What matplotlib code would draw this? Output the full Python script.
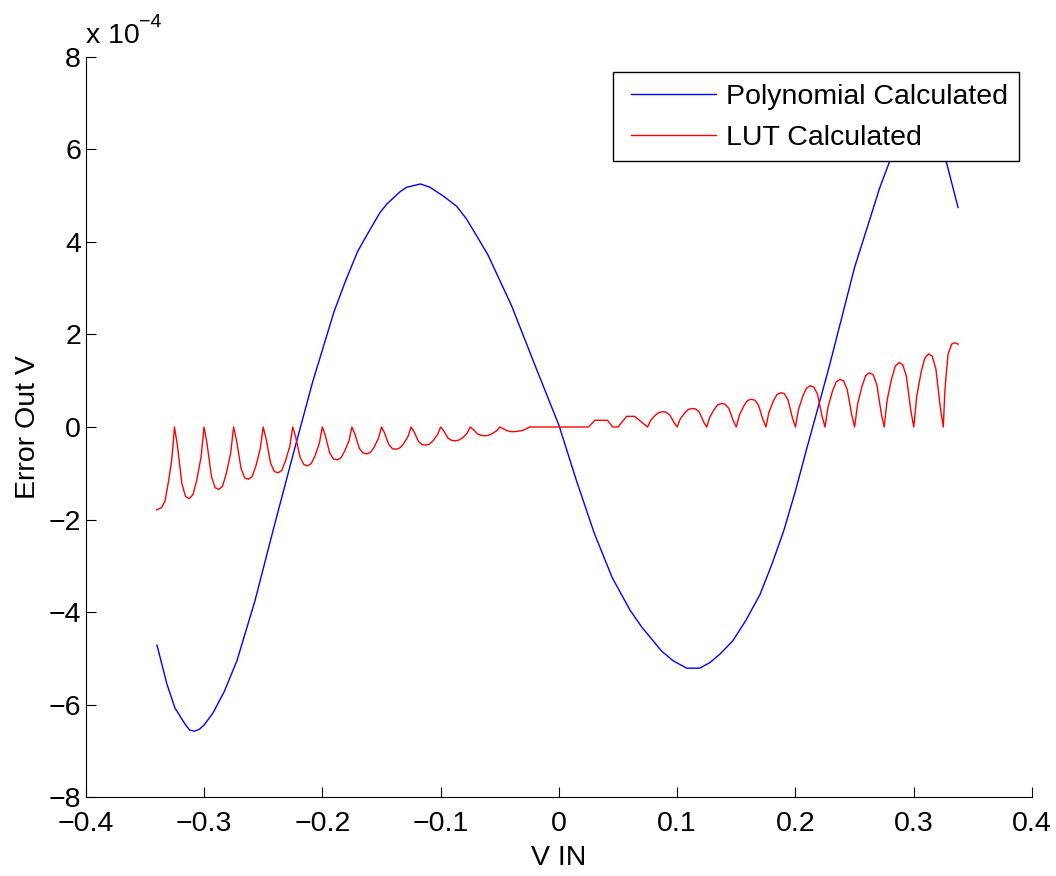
import numpy as np
import matplotlib
matplotlib.use("Agg")
import matplotlib.pyplot as plt
from matplotlib.patches import Rectangle

plt.rcParams['font.family'] = ['Liberation Sans', 'DejaVu Sans']

# error values are in units of 1e-4 V (axis shows "x 10^-4")
poly_x = [-0.3398, -0.3314, -0.3246, -0.316, -0.312, -0.308, -0.304, -0.300,
          -0.2925, -0.283, -0.2722, -0.257, -0.2418, -0.2232, -0.208, -0.20,
          -0.19, -0.18, -0.17, -0.16, -0.1513, -0.1457, -0.1344, -0.1287,
          -0.117, -0.109, -0.0978, -0.0865, -0.078, -0.07, -0.06, -0.04, -0.02,
          0.0, 0.015, 0.03, 0.045, 0.06, 0.07, 0.0797, 0.0868, 0.0966, 0.108,
          0.119, 0.1276, 0.136, 0.147, 0.158, 0.17, 0.18, 0.19, 0.20, 0.2094,
          0.2206, 0.229, 0.2384, 0.25, 0.2629, 0.271, 0.2792, 0.29, 0.30,
          0.308, 0.316, 0.3277, 0.3375]
poly_err = [-4.71, -5.55, -6.07, -6.42, -6.55, -6.57, -6.53, -6.44,
            -6.18, -5.72, -5.05, -3.76, -2.25, -0.45, 0.99, 1.66,
            2.5, 3.18, 3.8, 4.25, 4.63, 4.81, 5.08, 5.18,
            5.25, 5.18, 4.99, 4.77, 4.49, 4.15, 3.72, 2.62, 1.32,
            0.04, -1.17, -2.3, -3.25, -3.95, -4.32, -4.62, -4.84, -5.05, -5.21,
            -5.21, -5.09, -4.91, -4.62, -4.18, -3.62, -2.97, -2.25, -1.38, -0.48,
            0.56, 1.35, 2.29, 3.45, 4.49, 5.15, 5.71, 6.25, 6.52,
            6.57, 6.4, 5.71, 4.74]

lut_x = [
    -0.3400, -0.3359, -0.3330, -0.3300, -0.3274, -0.3260,
    -0.325, -0.3225, -0.31875, -0.315625, -0.3125, -0.309375, -0.30625, -0.3025,
    -0.300, -0.2975, -0.29375, -0.290625, -0.2875, -0.284375, -0.28125, -0.2775,
    -0.275, -0.2725, -0.26875, -0.265625, -0.2625, -0.259375, -0.25625, -0.2525,
    -0.250, -0.2475, -0.24375, -0.240625, -0.2375, -0.234375, -0.23125, -0.2275,
    -0.225, -0.2225, -0.21875, -0.215625, -0.2125, -0.209375, -0.20625, -0.2025,
    -0.200, -0.1975, -0.19375, -0.190625, -0.1875, -0.184375, -0.18125, -0.1775,
    -0.175, -0.1725, -0.16875, -0.165625, -0.1625, -0.159375, -0.15625, -0.1525,
    -0.150, -0.1475, -0.14375, -0.140625, -0.1375, -0.134375, -0.13125, -0.1275,
    -0.125, -0.1225, -0.11875, -0.115625, -0.1125, -0.109375, -0.10625, -0.1025,
    -0.100, -0.0975, -0.09375, -0.090625, -0.0875, -0.084375, -0.08125, -0.0775,
    -0.075, -0.0725, -0.06875, -0.065625, -0.0625, -0.059375, -0.05625, -0.0525,
    -0.050, -0.0475, -0.04375, -0.040625, -0.0375, -0.034375, -0.03125, -0.0275,
    -0.025, 0.025, 0.0305, 0.041, 0.0456,
    0.050, 0.0572, 0.064,
    0.075, 0.0775, 0.08125, 0.084375, 0.0875, 0.090625, 0.09375, 0.0975,
    0.100, 0.1025, 0.10625, 0.109375, 0.1125, 0.115625, 0.11875, 0.1225,
    0.125, 0.1275, 0.13125, 0.134375, 0.1375, 0.140625, 0.14375, 0.1475,
    0.150, 0.1525, 0.15625, 0.159375, 0.1625, 0.165625, 0.16875, 0.1725,
    0.175, 0.1775, 0.18125, 0.184375, 0.1875, 0.190625, 0.19375, 0.1975,
    0.200, 0.2025, 0.20625, 0.209375, 0.2125, 0.215625, 0.21875, 0.2225,
    0.225, 0.2275, 0.23125, 0.234375, 0.2375, 0.240625, 0.24375, 0.2475,
    0.250, 0.2525, 0.25625, 0.259375, 0.2625, 0.265625, 0.26875, 0.2725,
    0.275, 0.2775, 0.28125, 0.284375, 0.2875, 0.290625, 0.29375, 0.2975,
    0.300, 0.3025, 0.30625, 0.309375, 0.3125, 0.315625, 0.31875, 0.3225,
    0.325, 0.3262, 0.3277, 0.329, 0.332, 0.3347, 0.3375,
]
lut_err = [
    -1.79, -1.74, -1.60, -1.17, -0.73, -0.34,
    0, -0.40, -1.22, -1.50, -1.55, -1.46, -1.16, -0.65,
    0, -0.35, -1.07, -1.31, -1.35, -1.28, -1.01, -0.57,
    0, -0.29, -0.89, -1.10, -1.13, -1.07, -0.85, -0.47,
    0, -0.26, -0.78, -0.96, -0.99, -0.94, -0.74, -0.42,
    0, -0.22, -0.66, -0.81, -0.84, -0.79, -0.63, -0.35,
    0, -0.18, -0.56, -0.69, -0.71, -0.67, -0.53, -0.30,
    0, -0.15, -0.46, -0.56, -0.58, -0.55, -0.44, -0.24,
    0, -0.12, -0.38, -0.47, -0.48, -0.45, -0.36, -0.20,
    0, -0.10, -0.31, -0.38, -0.39, -0.37, -0.29, -0.16,
    0, -0.08, -0.24, -0.29, -0.30, -0.28, -0.23, -0.13,
    0, -0.05, -0.15, -0.18, -0.19, -0.18, -0.14, -0.08,
    0, -0.03, -0.08, -0.10, -0.10, -0.09, -0.08, -0.04,
    0, 0, 0.145, 0.145, 0,
    0, 0.23, 0.23,
    0, 0.14, 0.25, 0.31, 0.33, 0.32, 0.26, 0.09,
    0, 0.17, 0.30, 0.38, 0.40, 0.39, 0.32, 0.10,
    0, 0.21, 0.38, 0.48, 0.51, 0.49, 0.40, 0.13,
    0, 0.25, 0.45, 0.57, 0.60, 0.58, 0.47, 0.16,
    0, 0.31, 0.56, 0.70, 0.74, 0.72, 0.58, 0.19,
    0, 0.37, 0.67, 0.84, 0.89, 0.86, 0.70, 0.23,
    0, 0.43, 0.77, 0.97, 1.03, 1.00, 0.81, 0.27,
    0, 0.49, 0.88, 1.11, 1.17, 1.13, 0.92, 0.30,
    0, 0.58, 1.04, 1.31, 1.39, 1.35, 1.10, 0.36,
    0, 0.66, 1.19, 1.49, 1.58, 1.53, 1.25, 0.41,
    0, 0.74, 1.21, 1.57, 1.79, 1.82, 1.79,
]

x_ticks = [-0.4, -0.3, -0.2, -0.1, 0, 0.1, 0.2, 0.3, 0.4]
x_tick_labels = ["\u22120.4", "\u22120.3", "\u22120.2", "\u22120.1", "0", "0.1", "0.2", "0.3", "0.4"]
y_ticks = [-8, -6, -4, -2, 0, 2, 4, 6, 8]
y_tick_labels = ["\u22128", "\u22126", "\u22124", "\u22122", "0", "2", "4", "6", "8"]

fs = 20.5

fig = plt.figure(figsize=(10.56, 8.76), dpi=100)
ax = fig.add_axes([0.0812, 0.0898, 0.8961, 0.8455])

ax.plot(poly_x, poly_err, color="#0000ff", lw=1.0, label="Polynomial Calculated")
ax.plot(lut_x, lut_err, color="#ff0000", lw=1.0, label="LUT Calculated")

ax.set_xlim(-0.4, 0.4)
ax.set_ylim(-8, 8)
ax.set_xticks(x_ticks)
ax.set_xticklabels(x_tick_labels)
ax.set_yticks(y_ticks)
ax.set_yticklabels(y_tick_labels)
ax.tick_params(direction="in", length=7.5, width=0.8, labelsize=fs)
ax.tick_params(axis="x", pad=10)
ax.tick_params(axis="y", pad=3.5)

ax.spines["top"].set_visible(False)
ax.spines["right"].set_visible(False)
ax.spines["left"].set_linewidth(0.8)
ax.spines["bottom"].set_linewidth(0.8)

ax.set_xlabel("V IN", fontsize=fs, labelpad=5.5)
ax.set_ylabel("Error Out V", fontsize=fs, labelpad=5)

# exponent label like matlab
fig.text(86 / 1056, 1 - 43 / 876, "x 10", fontsize=fs, ha="left", va="baseline")
fig.text(139 / 1056, 1 - 27 / 876, "\u22124", fontsize=14, ha="left", va="baseline")

# legend box drawn by hand so the padding matches, opaque over the blue peak
ax.add_patch(Rectangle((0.5569, 0.8596), 0.4297, 0.1201, transform=ax.transAxes,
                       facecolor="white", edgecolor="black", lw=1.0, zorder=4, clip_on=False))
leg = ax.legend(loc="upper left", bbox_to_anchor=(0.5759, 0.9632), borderaxespad=0,
                borderpad=0, fontsize=fs, handlelength=3.0, handletextpad=0.35,
                labelspacing=0.52, frameon=False)
leg.set_zorder(5)

fig.savefig("out.png", dpi=100)
